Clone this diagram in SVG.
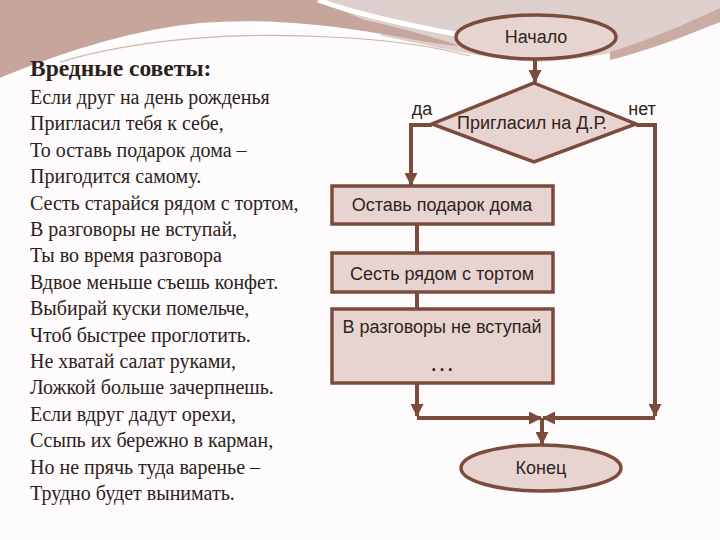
<svg xmlns="http://www.w3.org/2000/svg" width="720" height="540" viewBox="0 0 720 540">
<defs>
<style>
.poem{font-family:"Liberation Serif","Times New Roman",serif;font-size:20px;fill:#2b2220}
.title{font-family:"Liberation Serif","Times New Roman",serif;font-size:23.5px;font-weight:bold;fill:#2b2220}
.lbl{font-family:"Liberation Sans",Arial,sans-serif;font-size:18px;fill:#2e2422;text-anchor:middle}
.shape{fill:#e7d4d0;stroke:#7b4c3d;stroke-width:3.5}
.line{fill:none;stroke:#7b4c3d;stroke-width:4}
.head{fill:#7b4c3d}
</style>
<marker id="arr" viewBox="0 0 13 13" refX="12" refY="6.5" markerWidth="13" markerHeight="13" markerUnits="userSpaceOnUse" orient="auto">
<path d="M0,0 L13,6.5 L0,13 Z" class="head"/>
</marker>
</defs>
<rect width="720" height="540" fill="#fdfbfb"/>
<g id="background">
<path d="M0,0 H720 V22 C670,40 610,58 540,62 C480,60 420,42 360,32 C300,25 240,22 200,25 C130,32 60,55 0,80 Z" fill="#ddd0cc"/>
<path d="M0,0 H318 C335,8 350,14 365,20 C400,28 430,36 460,46 C430,44 400,36 365,31 C300,26 240,22 200,25 C130,32 60,55 0,80 Z" fill="#c5a59c"/>
<path d="M610,52 C650,40 690,22 720,8 V22 C680,38 650,50 610,60 Z" fill="#c9aba2"/>
<path d="M0,80 C60,55 130,32 200,25 C260,20 330,26 380,36" fill="none" stroke="#ffffff" stroke-width="4"/>
<path d="M60,62 C140,38 240,32 330,37 C400,40 440,48 470,56" fill="none" stroke="#c9b9a8" stroke-width="1.2"/>
<path d="M318,0 C345,10 380,20 455,34" fill="none" stroke="#ffffff" stroke-width="5"/>
</g>
<g id="poem">
<text class="title" x="30" y="76">Вредные советы:</text>
<text class="poem" x="30" y="104">Если друг на день рожденья</text>
<text class="poem" x="30" y="130.4">Пригласил тебя к себе,</text>
<text class="poem" x="30" y="156.8">То оставь подарок дома –</text>
<text class="poem" x="30" y="183.2">Пригодится самому.</text>
<text class="poem" x="30" y="209.6">Сесть старайся рядом с тортом,</text>
<text class="poem" x="30" y="236">В разговоры не вступай,</text>
<text class="poem" x="30" y="262.4">Ты во время разговора</text>
<text class="poem" x="30" y="288.8">Вдвое меньше съешь конфет.</text>
<text class="poem" x="30" y="315.2">Выбирай куски помельче,</text>
<text class="poem" x="30" y="341.6">Чтоб быстрее проглотить.</text>
<text class="poem" x="30" y="368">Не хватай салат руками,</text>
<text class="poem" x="30" y="394.4">Ложкой больше зачерпнешь.</text>
<text class="poem" x="30" y="420.8">Если вдруг дадут орехи,</text>
<text class="poem" x="30" y="447.2">Ссыпь их бережно в карман,</text>
<text class="poem" x="30" y="473.6">Но не прячь туда варенье –</text>
<text class="poem" x="30" y="500">Трудно будет вынимать.</text>
</g>
<g id="connectors">
<path class="line" d="M535,60 V82" marker-end="url(#arr)"/>
<path class="line" d="M432,125 H411 V185" marker-end="url(#arr)"/>
<path class="line" d="M636,125 H655 V416" marker-end="url(#arr)"/>
<path class="line" d="M417,224 V253"/>
<path class="line" d="M417,292 V309"/>
<path class="line" d="M417,383 V416" marker-end="url(#arr)"/>
<path class="line" d="M417,418 H541" marker-end="url(#arr)"/>
<path class="line" d="M655,418 H543" marker-end="url(#arr)"/>
<path class="line" d="M542,418 V444" marker-end="url(#arr)"/>
</g>
<g id="start">
<ellipse class="shape" cx="536" cy="37" rx="80" ry="22"/>
<text class="lbl" x="536" y="43">Начало</text>
</g>
<g id="decision">
<polygon class="shape" points="534,83 636,124 534,162 432,124"/>
<text class="lbl" x="532" y="129">Пригласил на Д.Р.</text>
<text class="lbl" x="422" y="115">да</text>
<text class="lbl" x="642" y="115">нет</text>
</g>
<g id="box1">
<rect class="shape" x="332" y="186" width="221" height="38"/>
<text class="lbl" x="442" y="211">Оставь подарок дома</text>
</g>
<g id="box2">
<rect class="shape" x="332" y="253" width="221" height="39"/>
<text class="lbl" x="442" y="280">Сесть рядом с тортом</text>
</g>
<g id="box3">
<rect class="shape" x="332" y="309" width="221" height="74"/>
<text class="lbl" x="442" y="333">В разговоры не вступай</text>
<text class="lbl" x="442" y="371" style="font-size:26px">…</text>
</g>
<g id="end">
<ellipse class="shape" cx="541" cy="468" rx="80" ry="23"/>
<text class="lbl" x="541" y="474">Конец</text>
</g>
</svg>
